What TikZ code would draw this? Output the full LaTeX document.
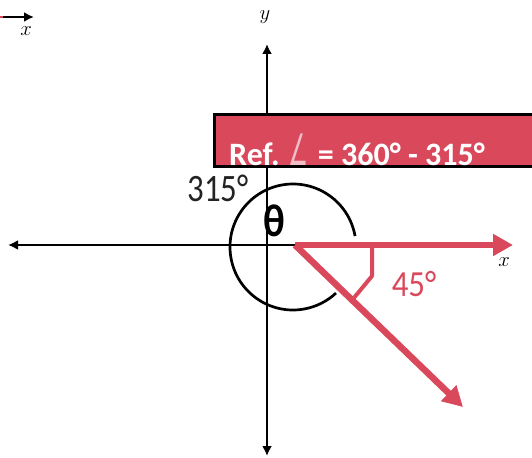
\documentclass[tikz,border=0pt]{standalone}
\usepackage{fontspec}
\usepackage{graphicx}
\setmainfont{Carlito}
\newfontfamily\dejavu{DejaVu Sans}
\usetikzlibrary{arrows.meta,calc}
\definecolor{refred}{RGB}{218,72,92}
\definecolor{angpink}{RGB}{240,190,198}
\definecolor{txtgray}{RGB}{35,35,35}
\begin{document}
\begin{tikzpicture}[x=1bp,y=-1bp,
  axisline/.style={line width=2.5bp},
  axend/.style={-{Latex[length=10bp,width=10bp]}},
  axstart/.style={{Latex[length=10bp,width=10bp]}-},
  axboth/.style={{Latex[length=10bp,width=10bp]}-{Latex[length=10bp,width=10bp]}},
  redarrow/.style={refred,line width=6.5bp,-{Triangle[length=20bp,width=21bp]}},
  lbl/.style={inner sep=0pt,font=\fontsize{33}{36}\selectfont},
  axlbl/.style={inner sep=0pt,font=\fontsize{20}{24}\selectfont}]
\useasboundingbox (0,0) rectangle (532,458);
% coordinates
\coordinate (O) at (295,245);
\coordinate (C) at (293,247);
\coordinate (T) at (463,407);
\coordinate (X) at (513,245);
\coordinate (yt) at (267,44);
\coordinate (yb) at (267,456);
\coordinate (xl) at (8,245);
\coordinate (m1) at (372,245);
\coordinate (m2) at (372,276);
\coordinate (tl0) at (0,17);
\coordinate (tl1) at (34,17);
\coordinate (tlr) at (3,17);
% top-left remnant arrow
\draw[axisline,axend] (tl0) -- (tl1);
\draw[refred,line width=2.5bp] (tl0) -- (tlr);
\node[axlbl] (xtl) at (26,31) {$x$};
% axes
\draw[axisline,axboth] (yb) -- (yt);
\draw[axisline,axstart] (xl) -- (O);
\node[axlbl] (ylbl) at (265,17) {$y$};
% angle arc
\draw[line width=2.7bp] (C) ++(-10:63) arc[start angle=-10, end angle=-313, radius=63];
% red rays
\draw[redarrow] (O) -- (X);
\draw[redarrow] (O) -- (T);
\draw[refred,line width=4bp,line join=round] (m1) -- (m2) -- ($(O)!0.34!(T)$);
\node[axlbl] (xr) at (504,262) {$x$};
% labels
\node[lbl,txtgray] (a315) at (218,188) {\scalebox{1}[1.18]{315°}};
\node[inner sep=0pt,font=\bfseries\fontsize{40}{44}\selectfont] (theta) at (274,221) {\scalebox{1}[1.15]{θ}};
\node[lbl,refred] (a45) at (414,284) {\scalebox{1}[1.12]{45°}};
% reference box
\node[draw=black,line width=3bp,fill=refred,minimum width=330bp,minimum height=52bp,anchor=north west,inner sep=0pt] (refbox) at (213,113) {};
\node[inner sep=0pt,anchor=west,text=white,font=\bfseries\fontsize{31.5}{34}\selectfont] (reftext) at (229,150) {\scalebox{1.02}[1.04]{Ref.\hspace{9bp}{\dejavu\mdseries\fontsize{22}{24}\selectfont\color{angpink}\raisebox{0bp}{\scalebox{1}[1.9]{∠}}}\hspace{9bp}= 360° - 315°}};
\end{tikzpicture}
\end{document}
